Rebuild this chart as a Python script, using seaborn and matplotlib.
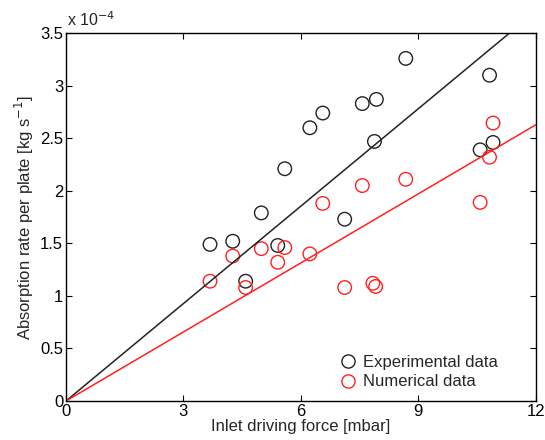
import numpy as np
import pandas as pd
import matplotlib
matplotlib.use("Agg")
import matplotlib.pyplot as plt
import seaborn as sns
from matplotlib.lines import Line2D

# Data (absorption rate in units of 1e-4 kg/s)
exp_x = [3.68, 4.26, 4.59, 4.99, 5.41, 5.59, 6.23, 6.56, 7.12, 7.57, 7.88, 7.93, 8.68, 10.58, 10.82, 10.91]
exp_y = [1.49, 1.52, 1.14, 1.79, 1.48, 2.21, 2.60, 2.74, 1.73, 2.83, 2.47, 2.87, 3.26, 2.39, 3.10, 2.46]
num_x = [3.68, 4.26, 4.59, 4.99, 5.41, 5.59, 6.23, 6.56, 7.12, 7.57, 7.84, 7.91, 8.68, 10.58, 10.82, 10.91]
num_y = [1.14, 1.38, 1.08, 1.45, 1.32, 1.46, 1.40, 1.88, 1.08, 2.05, 1.12, 1.09, 2.11, 1.89, 2.32, 2.645]
fit_x = [0, 12]
exp_slope = 0.309
num_slope = 0.219
labels = ["Experimental data", "Numerical data"]
colors = ["#222222", "#ff2020"]
xticks = [0, 3, 6, 9, 12]
yticks = [0, 0.5, 1, 1.5, 2, 2.5, 3, 3.5]
ytick_labels = ["0", "0.5", "1", "1.5", "2", "2.5", "3", "3.5"]

sns.set_theme(style="ticks")
plt.rcParams['font.family'] = ['Liberation Sans', 'DejaVu Sans']
FS = 12

fig = plt.figure(figsize=(5.45, 4.4), dpi=100)
ax = fig.add_axes([0.121, 0.0886, 0.862, 0.836])

series = [(exp_x, exp_y, exp_slope), (num_x, num_y, num_slope)]
for (xs, ys, slope), c, lab in zip(series, colors, labels):
    fit = pd.DataFrame({"x": fit_x, "y": [slope * v for v in fit_x]})
    sns.lineplot(data=fit, x="x", y="y", color=c, ax=ax, linewidth=1.1, legend=False)

for (xs, ys, slope), c, lab in zip(series, colors, labels):
    df = pd.DataFrame({"x": xs, "y": ys})
    n_before = len(ax.collections)
    sns.scatterplot(data=df, x="x", y="y", ax=ax, marker="o", s=95,
                    color=c, linewidth=1.0, legend=False)
    for coll in ax.collections[n_before:]:
        coll.set_facecolor("none")
        coll.set_edgecolor(c)
        coll.set_linewidth(1.0)

ax.set_xlim(0, 12)
ax.set_ylim(0, 3.5)
ax.set_xticks(xticks)
ax.set_xticklabels([str(v) for v in xticks])
ax.set_yticks(yticks)
ax.set_yticklabels(ytick_labels)
ax.tick_params(direction="in", top=True, right=True, labelsize=FS, length=4, width=0.8,
               colors="black", pad=2)
for s in ax.spines.values():
    s.set_color("black")
    s.set_linewidth(1.0)

ax.set_xlabel("Inlet driving force [mbar]", fontsize=FS, labelpad=0)
ax.set_ylabel("Absorption rate per plate [kg s$^{-1}$]", fontsize=FS, labelpad=3)
ax.text(0.002, 1.01, r"x 10$^{-4}$", transform=ax.transAxes, fontsize=FS - 0.5,
        ha="left", va="bottom")

handles = [Line2D([], [], marker="o", linestyle="none", markerfacecolor="none",
                  markeredgecolor=c, markersize=9.5, markeredgewidth=1.0) for c in colors]
ax.legend(handles, labels, loc="lower right", bbox_to_anchor=(0.945, 0.0), frameon=False,
          fontsize=FS, handletextpad=0.3, labelspacing=0.25, borderaxespad=0.3,
          handlelength=1.2)

fig.savefig("out.png", dpi=100)
